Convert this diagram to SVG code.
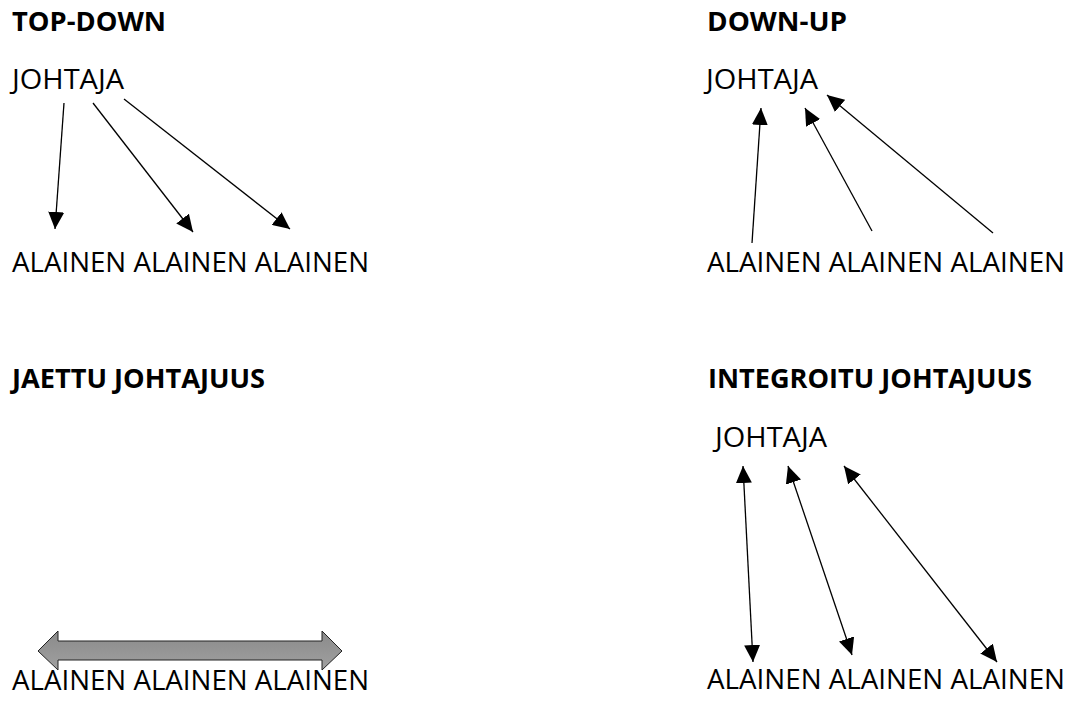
<svg xmlns="http://www.w3.org/2000/svg" width="1077" height="704" viewBox="0 0 1077 704">
  <style>
    text { font-family: "Open Sans", "Liberation Sans", sans-serif; fill: #000; }
    .title { font-size: 27px; font-weight: bold; }
    .label { font-size: 28px; }
    .link { stroke: #000; stroke-width: 1.3; fill: none; }
  </style>
  <defs>
    <marker id="head" markerUnits="userSpaceOnUse" markerWidth="18" markerHeight="16" refX="17" refY="8" orient="auto-start-reverse" viewBox="0 0 18 16">
      <path d="M0,0 L17,8 L0,16 Z" fill="#000"/>
    </marker>
    <linearGradient id="grey" x1="0" y1="0" x2="0" y2="1">
      <stop offset="0" stop-color="#8a8a8a"/>
      <stop offset="1" stop-color="#a0a0a0"/>
    </linearGradient>
  </defs>

  <rect width="1077" height="704" fill="#fff"/>

  <!-- section titles -->
  <g id="titles">
    <text class="title" x="12" y="31" textLength="154" lengthAdjust="spacingAndGlyphs">TOP-DOWN</text>
    <text class="title" x="707" y="31" textLength="140" lengthAdjust="spacingAndGlyphs">DOWN-UP</text>
    <text class="title" x="12" y="388" textLength="253" lengthAdjust="spacingAndGlyphs">JAETTU JOHTAJUUS</text>
    <text class="title" x="708" y="388" textLength="324" lengthAdjust="spacingAndGlyphs">INTEGROITU JOHTAJUUS</text>
  </g>

  <!-- top-down -->
  <g id="td-leader"><text class="label" x="12" y="89" textLength="112" lengthAdjust="spacingAndGlyphs">JOHTAJA</text></g>
  <g id="td-staff"><text class="label" x="12" y="272" textLength="357" lengthAdjust="spacingAndGlyphs">ALAINEN ALAINEN ALAINEN</text></g>

  <!-- down-up -->
  <g id="du-leader"><text class="label" x="706" y="89" textLength="112" lengthAdjust="spacingAndGlyphs">JOHTAJA</text></g>
  <g id="du-staff"><text class="label" x="707" y="272" textLength="358" lengthAdjust="spacingAndGlyphs">ALAINEN ALAINEN ALAINEN</text></g>

  <!-- shared leadership -->
  <g id="sh-staff"><text class="label" x="12" y="690" textLength="357" lengthAdjust="spacingAndGlyphs">ALAINEN ALAINEN ALAINEN</text></g>
  <g id="sh-link">
    <path d="M38,651 L58,631 L58,641 L322,641 L322,631 L342,651 L322,670 L322,660 L58,660 L58,670 Z" fill="url(#grey)" stroke="#222" stroke-width="1"/>
  </g>

  <!-- integrated leadership -->
  <g id="in-leader"><text class="label" x="715" y="447" textLength="112" lengthAdjust="spacingAndGlyphs">JOHTAJA</text></g>
  <g id="in-staff"><text class="label" x="707" y="689" textLength="358" lengthAdjust="spacingAndGlyphs">ALAINEN ALAINEN ALAINEN</text></g>

  <g id="connectors">
    <!-- top-down: leader to staff -->
    <line class="link" x1="64" y1="103" x2="55" y2="229" marker-end="url(#head)"/>
    <line class="link" x1="93" y1="103" x2="193" y2="232" marker-end="url(#head)"/>
    <line class="link" x1="124" y1="99" x2="290" y2="229" marker-end="url(#head)"/>
    <!-- down-up: staff to leader -->
    <line class="link" x1="752" y1="243" x2="761" y2="108" marker-end="url(#head)"/>
    <line class="link" x1="872" y1="231" x2="805" y2="108" marker-end="url(#head)"/>
    <line class="link" x1="993" y1="233" x2="827" y2="95" marker-end="url(#head)"/>
    <!-- integrated: both directions -->
    <line class="link" x1="743" y1="466" x2="753" y2="662" marker-start="url(#head)" marker-end="url(#head)"/>
    <line class="link" x1="788" y1="466" x2="852" y2="655" marker-start="url(#head)" marker-end="url(#head)"/>
    <line class="link" x1="844" y1="466" x2="997" y2="662" marker-start="url(#head)" marker-end="url(#head)"/>
  </g>
</svg>
